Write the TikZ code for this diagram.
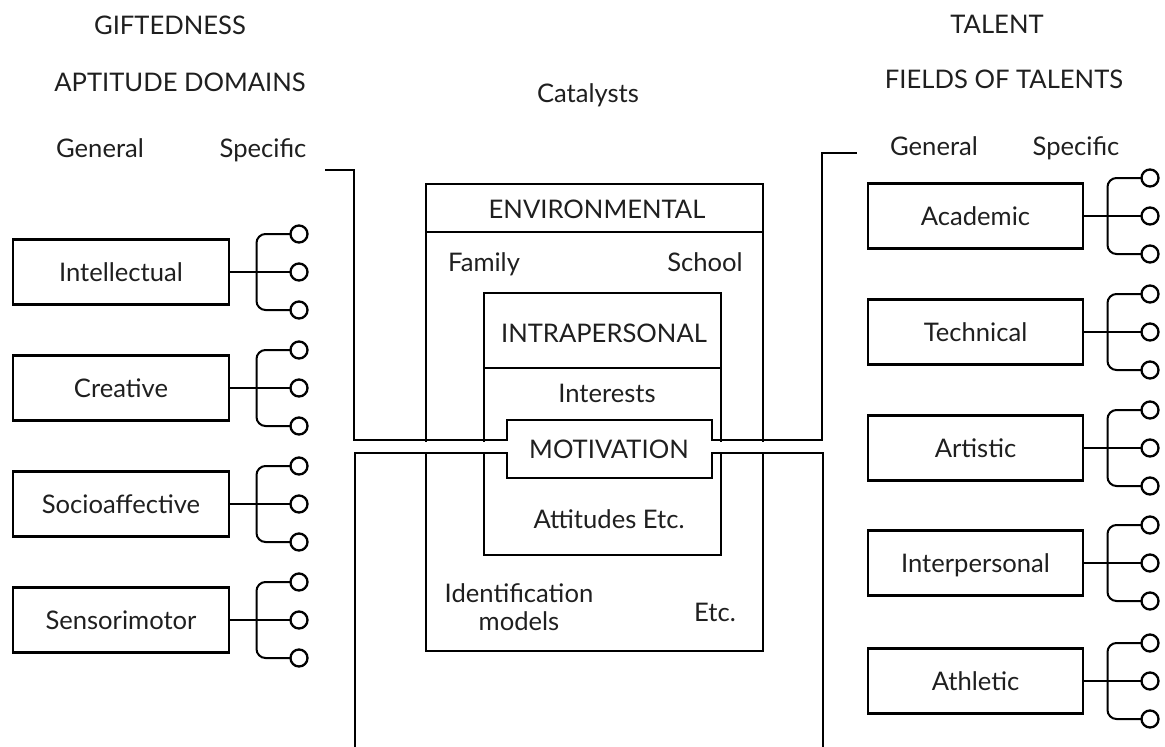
\documentclass[tikz,border=0pt]{standalone}
\usepackage{fontspec}
\setmainfont{Lato}
\usetikzlibrary{calc}
\begin{document}
\begin{tikzpicture}[x=1pt,y=-1pt,line width=2.3pt,
  every node/.style={font=\fontsize{25.6}{28}\selectfont,text=black!88,inner sep=0pt,outer sep=0pt},
  gbox/.style={draw,minimum width=216pt,minimum height=65pt,text height=18pt,text depth=0pt},
  dot/.style={draw,circle,minimum size=17pt},
  lbl/.style={anchor=base},
  fork/.style={rounded corners=9pt,line width=2pt}]
\useasboundingbox (0,0) rectangle (1165,747);

% headings
\node[lbl] (gift) at (170,34) {GIFTEDNESS};
\node[lbl] (apt) at (180,91) {APTITUDE DOMAINS};
\node[lbl] (genL) at (100,157) {General};
\node[lbl] (speL) at (263,157) {Specific};
\node[lbl] (cat) at (588,102) {Catalysts};
\node[lbl] (tal) at (997,33) {TALENT};
\node[lbl] (fot) at (1004,88) {FIELDS OF TALENTS};
\node[lbl] (genR) at (934,155) {General};
\node[lbl] (speR) at (1076,155) {Specific};

% aptitude domains with their specific branches
\foreach \n/\t/\yy in {i/Intellectual/272,c/Creative/388,s/Socioaffective/504,m/Sensorimotor/620}{
  \node[gbox] (\n) at (121,\yy) {\t};
  \node[dot] (\n1) at ([xshift=70pt,yshift=38pt]\n.east) {};
  \node[dot] (\n2) at ([xshift=70pt]\n.east) {};
  \node[dot] (\n3) at ([xshift=70pt,yshift=-38pt]\n.east) {};
  \draw[fork] (\n.east) -- (\n2.west);
  \draw[fork] (\n1.west) -- ++(-34,0) |- (\n3.west);
}

% fields of talents with their specific branches
\foreach \n/\t/\yy in {ac/Academic/216,te/Technical/332,ar/Artistic/448,ip/Interpersonal/563,at/Athletic/681}{
  \node[gbox,minimum width=215pt] (\n) at (975.5,\yy) {\t};
  \node[dot] (\n1) at ([xshift=67pt,yshift=38pt]\n.east) {};
  \node[dot] (\n2) at ([xshift=67pt]\n.east) {};
  \node[dot] (\n3) at ([xshift=67pt,yshift=-38pt]\n.east) {};
  \draw[fork] (\n.east) -- (\n2.west);
  \draw[fork] (\n1.west) -- ++(-34,0) |- (\n3.west);
}

% catalysts: environmental and intrapersonal frames
\node[draw,anchor=north west,minimum width=337pt,minimum height=467pt] (env) at (426,184) {};
\draw ([yshift=-48pt]env.north west) -- ([yshift=-48pt]env.north east);
\node[draw,anchor=north west,minimum width=237pt,minimum height=262pt] (intra) at (484,293) {};
\draw ([yshift=-75pt]intra.north west) -- ([yshift=-75pt]intra.north east);

\node[lbl] (envt) at (597,218) {ENVIRONMENTAL};
\node[lbl] (fam) at (484,271) {Family};
\node[lbl] (sch) at (705,271) {School};
\node[lbl] (intt) at (604,342) {INTRAPERSONAL};
\node[lbl] (inte) at (607,402) {Interests};
\node[lbl] (att) at (609,528) {Attitudes Etc.};
\node[align=center] (idm) at (519,607) {Identification\\models};
\node[lbl] (etc) at (715,621) {Etc.};

% channel from giftedness to talent through motivation
\fill[white] (356,441.5) rectangle (821,451.5);
\coordinate (gin) at (325,170);
\coordinate (tout) at (857,153);
\coordinate (gbot) at (355,747);
\coordinate (tbot) at (823,747);
\draw (gin) -- (354,170) -- (354,440) -- (507,440) -- (507,420) -- (712,420)
      -- (712,440) -- (822,440) |- (tout);
\draw (gbot) -- (355,453) -- (507,453) -- (507,478) -- (712,478) -- (712,453)
      -- (823,453) -- (tbot);
\node[lbl] (mot) at (609,458) {MOTIVATION};
\end{tikzpicture}
\end{document}
